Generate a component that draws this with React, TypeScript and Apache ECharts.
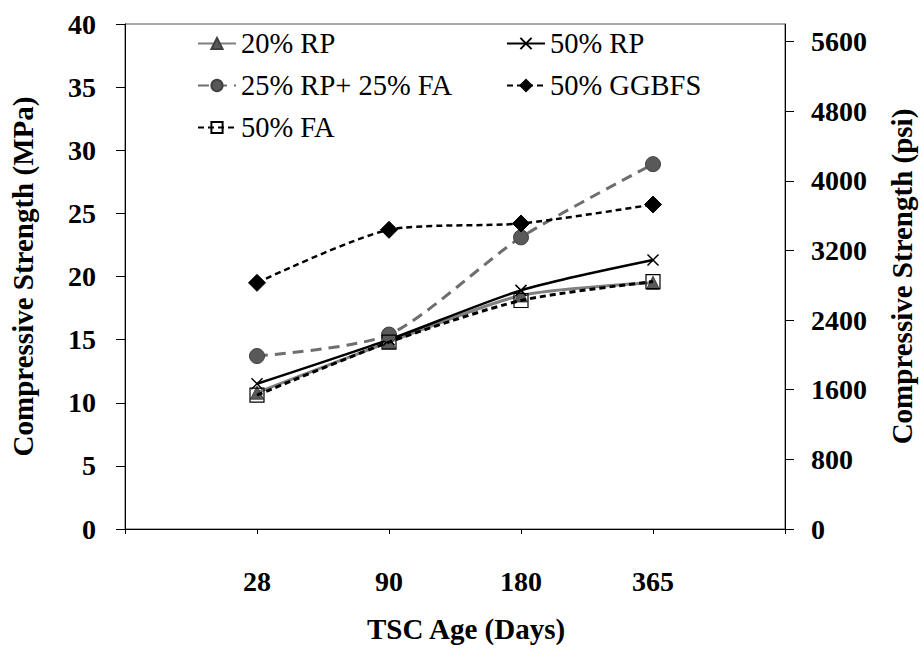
import React, { useEffect, useRef } from "react";
import * as echarts from "echarts";

// TSC age categories (days), placed at x = 1..4 on a 0..5 value axis
const ages = ["28", "90", "180", "365"];

// Compressive strength (MPa)
const rp20 = [10.8, 14.8, 18.5, 19.5];
const rp50 = [11.5, 15.0, 18.9, 21.3];
const rp25fa25 = [13.7, 15.4, 23.1, 28.9];
const ggbfs50 = [19.5, 23.7, 24.2, 25.7];
const fa50 = [10.6, 14.8, 18.1, 19.6];

// Right-hand axis ticks (psi)
const psiTicks = [0, 800, 1600, 2400, 3200, 4000, 4800, 5600];
const MPA_MAX = 40;
const PSI_PER_MPA = 145.04;

const FONT = "'Liberation Serif', 'Times New Roman', serif";

const pts = (vals: number[]) => vals.map((v, i) => [i + 1, v]);

export default function App() {
  const ref = useRef<HTMLDivElement>(null);

  useEffect(() => {
    if (!ref.current) return;
    const chart = echarts.init(ref.current, null, { renderer: "svg" });

    const axisLabelStyle = {
      color: "#000",
      fontFamily: FONT,
      fontWeight: "bold" as const,
      fontSize: 28,
    };
    const nameStyle = {
      color: "#000",
      fontFamily: FONT,
      fontWeight: "bold" as const,
      fontSize: 29,
    };

    const legendCommon = {
      orient: "vertical" as const,
      top: 28,
      padding: 0,
      itemWidth: 38,
      itemHeight: 14,
      itemGap: 11,
      textStyle: {
        color: "#000",
        fontFamily: FONT,
        fontWeight: "normal" as const,
        fontSize: 28.5,
        lineHeight: 31,
      },
    };

    chart.setOption({
      animation: false,
      backgroundColor: "#fff",
      textStyle: { fontFamily: FONT },
      grid: {
        left: 124,
        right: 135,
        top: 24,
        bottom: 117,
        show: true,
        borderColor: "#555",
        borderWidth: 1,
      },
      legend: [
        {
          ...legendCommon,
          left: 197,
          data: ["20% RP", "25% RP+ 25% FA", "50% FA"],
        },
        {
          ...legendCommon,
          left: 506,
          data: ["50% RP", "50% GGBFS"],
        },
      ],
      xAxis: {
        type: "value",
        min: 0,
        max: 5,
        interval: 1,
        name: "TSC Age (Days)",
        nameLocation: "middle",
        nameGap: 85,
        nameTextStyle: { ...nameStyle, padding: [0, 0, 0, 22] },
        axisLine: { show: true, lineStyle: { color: "#000", width: 1 } },
        axisTick: { show: true, length: 5, lineStyle: { color: "#000" } },
        axisLabel: {
          ...axisLabelStyle,
          margin: 38,
          formatter: (v: number) => (v >= 1 && v <= ages.length ? ages[v - 1] : ""),
        },
        splitLine: { show: false },
      },
      yAxis: [
        {
          type: "value",
          min: 0,
          max: MPA_MAX,
          interval: 5,
          position: "left",
          name: "Compressive Strength (MPa)",
          nameLocation: "middle",
          nameRotate: 90,
          nameGap: 88,
          nameTextStyle: nameStyle,
          axisLine: { show: true, lineStyle: { color: "#000", width: 1 } },
          axisTick: { show: true, length: 9, lineStyle: { color: "#000" } },
          axisLabel: { ...axisLabelStyle, margin: 29 },
          splitLine: { show: false },
        },
        {
          type: "value",
          min: 0,
          max: MPA_MAX * PSI_PER_MPA,
          position: "right",
          name: "Compressive Strength (psi)",
          nameLocation: "middle",
          nameRotate: 90,
          nameGap: 102,
          nameTextStyle: nameStyle,
          axisLine: { show: true, lineStyle: { color: "#000", width: 1 } },
          axisTick: {
            show: true,
            length: 9,
            customValues: psiTicks,
            lineStyle: { color: "#000" },
          },
          axisLabel: {
            ...axisLabelStyle,
            margin: 26,
            customValues: psiTicks,
            formatter: (v: number) => String(Math.round(v)),
          },
          splitLine: { show: false },
        },
      ],
      series: [
        {
          name: "20% RP",
          type: "line",
          smooth: 0.25,
          data: pts(rp20),
          symbol: "triangle",
          symbolSize: 13,
          lineStyle: { color: "#808080", width: 3, type: "solid" },
          itemStyle: { color: "#595959", borderColor: "#404040", borderWidth: 1 },
          z: 2,
        },
        {
          name: "50% RP",
          type: "line",
          smooth: 0.25,
          data: pts(rp50),
          symbol: "path://M0,0L10,10M10,0L0,10",
          symbolSize: 11,
          lineStyle: { color: "#000", width: 2.5, type: "solid" },
          itemStyle: { color: "#000", borderColor: "#000", borderWidth: 1.5 },
          z: 3,
        },
        {
          name: "25% RP+ 25% FA",
          type: "line",
          smooth: 0.25,
          data: pts(rp25fa25),
          symbol: "circle",
          symbolSize: 15,
          lineStyle: { color: "#6e6e6e", width: 3, type: [11, 7] },
          itemStyle: { color: "#595959", borderColor: "#404040", borderWidth: 1 },
          z: 4,
        },
        {
          name: "50% GGBFS",
          type: "line",
          smooth: 0.25,
          data: pts(ggbfs50),
          symbol: "diamond",
          symbolSize: 17,
          lineStyle: { color: "#000", width: 2.5, type: [6, 4] },
          itemStyle: { color: "#000", borderColor: "#000", borderWidth: 1 },
          z: 5,
        },
        {
          name: "50% FA",
          type: "line",
          smooth: 0.25,
          data: pts(fa50),
          symbol: "rect",
          symbolSize: 14,
          lineStyle: { color: "#000", width: 3, type: [6, 4] },
          itemStyle: {
            color: "rgba(255,255,255,0)",
            borderColor: "#000",
            borderWidth: 1.2,
          },
          z: 6,
        },
      ],
    });

    return () => chart.dispose();
  }, []);

  return (
    <div
      ref={ref}
      style={{
        position: "fixed",
        left: 0,
        top: 0,
        width: 924,
        height: 648,
        background: "#fff",
      }}
    />
  );
}
